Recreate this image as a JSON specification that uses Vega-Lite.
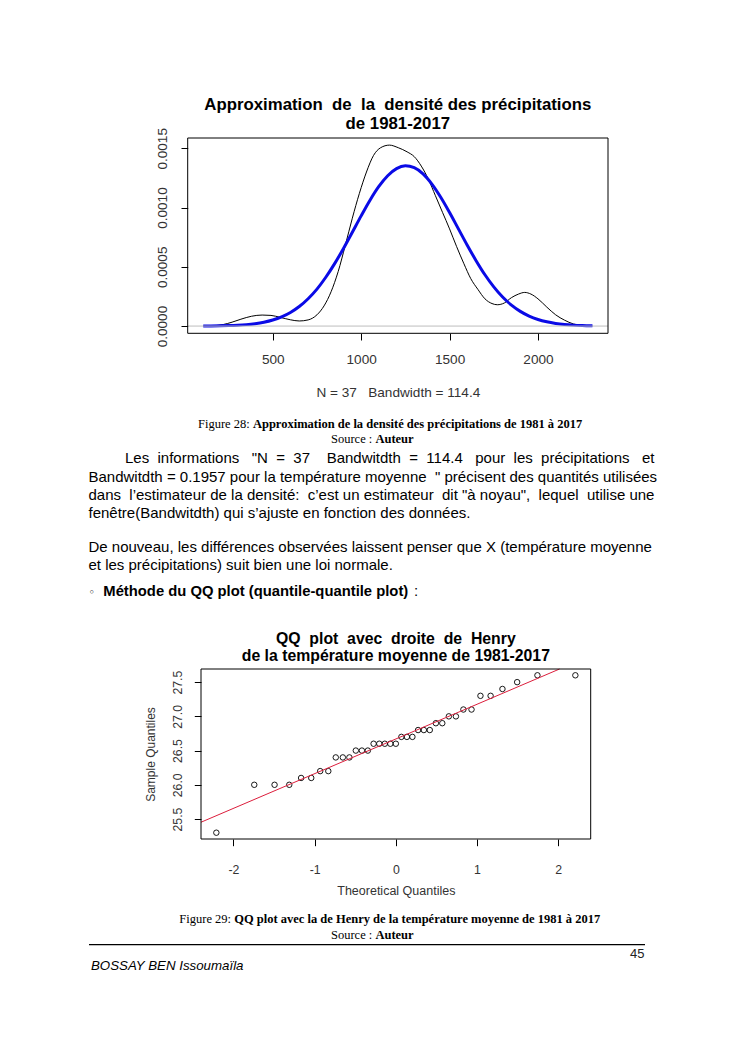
{
  "$schema": "https://vega.github.io/schema/vega-lite/v6.json",
  "padding": 0,
  "background": "white",
  "config": {
    "view": {"stroke": null},
    "font": "Liberation Sans",
    "concat": {"spacing": 0},
    "axis": {"grid": false, "domain": false, "tickColor": "#000", "tickWidth": 1, "labelColor": "#333", "titleColor": "#333", "labelFont": "Liberation Sans", "titleFont": "Liberation Sans", "titleFontWeight": "normal", "labelOverlap": false, "labelFlush": false}
  },
  "datasets": {
    "kde": [
      {"x":107,"d":0},{"x":160,"d":0.000002},{"x":220,"d":0.000013},{"x":270,"d":0.000033},{"x":320,"d":0.000058},{"x":380,"d":0.000083},{"x":440,"d":0.000093},{"x":490,"d":0.00009},{"x":541,"d":0.000074},{"x":600,"d":0.000053},{"x":650,"d":0.000043},{"x":700,"d":0.000052},{"x":750,"d":0.000095},{"x":790,"d":0.00017},{"x":830,"d":0.00029},{"x":870,"d":0.00046},{"x":910,"d":0.00068},{"x":950,"d":0.00091},{"x":990,"d":0.00112},{"x":1030,"d":0.0013},{"x":1070,"d":0.00144},{"x":1110,"d":0.001505},{"x":1160,"d":0.001527},{"x":1210,"d":0.001505},{"x":1260,"d":0.00147},{"x":1300,"d":0.00143},{"x":1340,"d":0.00135},{"x":1380,"d":0.00124},{"x":1420,"d":0.0011},{"x":1460,"d":0.00096},{"x":1500,"d":0.00082},{"x":1540,"d":0.00067},{"x":1580,"d":0.00053},{"x":1620,"d":0.0004},{"x":1660,"d":0.00031},{"x":1700,"d":0.00023},{"x":1740,"d":0.00019},{"x":1770,"d":0.00018},{"x":1810,"d":0.000195},{"x":1850,"d":0.00024},{"x":1890,"d":0.00027},{"x":1925,"d":0.000284},{"x":1960,"d":0.00027},{"x":2000,"d":0.00023},{"x":2050,"d":0.00016},{"x":2100,"d":0.000095},{"x":2150,"d":0.00005},{"x":2200,"d":0.000018},{"x":2250,"d":0.000005},{"x":2308,"d":0}
    ],
    "normal": [
      {"x":107,"d":0.0000007},{"x":150,"d":0.0000012},{"x":200,"d":0.0000023},{"x":250,"d":0.0000041},{"x":300,"d":0.0000072},{"x":350,"d":0.0000122},{"x":400,"d":0.0000203},{"x":450,"d":0.0000327},{"x":500,"d":0.0000511},{"x":550,"d":0.0000778},{"x":600,"d":0.000115},{"x":650,"d":0.000165},{"x":700,"d":0.000231},{"x":750,"d":0.000312},{"x":800,"d":0.000412},{"x":850,"d":0.000527},{"x":900,"d":0.000655},{"x":950,"d":0.000792},{"x":1000,"d":0.00093},{"x":1050,"d":0.001062},{"x":1100,"d":0.001178},{"x":1150,"d":0.001269},{"x":1200,"d":0.001329},{"x":1250,"d":0.001352},{"x":1300,"d":0.001336},{"x":1350,"d":0.001284},{"x":1400,"d":0.001198},{"x":1450,"d":0.001087},{"x":1500,"d":0.000958},{"x":1550,"d":0.00082},{"x":1600,"d":0.000682},{"x":1650,"d":0.000552},{"x":1700,"d":0.000433},{"x":1750,"d":0.000331},{"x":1800,"d":0.000245},{"x":1850,"d":0.000177},{"x":1900,"d":0.000124},{"x":1950,"d":0.0000843},{"x":2000,"d":0.0000557},{"x":2050,"d":0.0000358},{"x":2100,"d":0.0000224},{"x":2150,"d":0.0000136},{"x":2200,"d":0.000008},{"x":2250,"d":0.0000046},{"x":2308,"d":0.0000023}
    ],
    "qq": [
      {"theo":-2.211,"sample":25.3},{"theo":-1.744,"sample":26.0},{"theo":-1.494,"sample":26.0},{"theo":-1.313,"sample":26.0},{"theo":-1.167,"sample":26.1},{"theo":-1.042,"sample":26.1},{"theo":-0.932,"sample":26.2},{"theo":-0.832,"sample":26.2},{"theo":-0.74,"sample":26.4},{"theo":-0.653,"sample":26.4},{"theo":-0.572,"sample":26.4},{"theo":-0.493,"sample":26.5},{"theo":-0.418,"sample":26.5},{"theo":-0.345,"sample":26.5},{"theo":-0.274,"sample":26.6},{"theo":-0.204,"sample":26.6},{"theo":-0.136,"sample":26.6},{"theo":-0.068,"sample":26.6},{"theo":0,"sample":26.6},{"theo":0.068,"sample":26.7},{"theo":0.136,"sample":26.7},{"theo":0.204,"sample":26.7},{"theo":0.274,"sample":26.8},{"theo":0.345,"sample":26.8},{"theo":0.418,"sample":26.8},{"theo":0.493,"sample":26.9},{"theo":0.572,"sample":26.9},{"theo":0.653,"sample":27.0},{"theo":0.74,"sample":27.0},{"theo":0.832,"sample":27.1},{"theo":0.932,"sample":27.1},{"theo":1.042,"sample":27.3},{"theo":1.167,"sample":27.3},{"theo":1.313,"sample":27.4},{"theo":1.494,"sample":27.5},{"theo":1.744,"sample":27.6},{"theo":2.211,"sample":27.6}
    ],
    "henry": [
      {"theo":-2.4,"sample":25.453},{"theo":2.016,"sample":27.692}
    ]
  },
  "vconcat": [
    {
      "width": 745, "height": 138,
      "data": {"values": [{"t": ""}]},
      "mark": "text",
      "encoding": {"text": {"field": "t"}}
    },
    {
      "width": 745, "height": 195.3,
      "title": {"text": ["Approximation\u00a0 de\u00a0 la\u00a0 densité des précipitations", "de 1981-2017"], "fontSize": 16.8, "fontWeight": "bold", "color": "#000", "anchor": "middle", "frame": "group", "baseline": "alphabetic", "lineHeight": 19.3, "offset": 8.7, "dx": 25.35, "dy": 27.3, "font": "Liberation Sans"},
      "layer": [
        {
          "data": {"name": "kde"},
          "mark": {"type": "line", "interpolate": "monotone", "strokeWidth": 1, "color": "#000"},
          "encoding": {
            "x": {"field": "x", "type": "quantitative", "scale": {"domain": [19, 2396], "range": [187.7, 608], "nice": false, "zero": false},
              "axis": {"values": [500, 1000, 1500, 2000], "format": "d", "tickSize": 6.7, "labelFontSize": 13.6, "labelPadding": 12, "title": "N = 37\u00a0\u00a0 Bandwidth = 114.4", "titleFontSize": 13.6, "titleX": 397.85, "titleY": 63.4, "titleBaseline": "alphabetic", "titleAlign": "center"}},
            "y": {"field": "d", "type": "quantitative", "scale": {"domain": [-0.000061, 0.001587], "nice": false, "zero": false},
              "axis": {"values": [0, 0.0005, 0.001, 0.0015], "format": ".4f", "offset": -187.7, "tickSize": 6.7, "labelFontSize": 13.6, "labelAngle": 270, "labelAlign": "center", "labelBaseline": "bottom", "labelPadding": 12, "title": null}}
          }
        },
        {
          "data": {"name": "normal"},
          "mark": {"type": "line", "interpolate": "monotone", "strokeWidth": 3, "color": "#0a0ae6"},
          "encoding": {
            "x": {"field": "x", "type": "quantitative"},
            "y": {"field": "d", "type": "quantitative"}
          }
        },
        {
          "data": {"values": [{"level": 0}]},
          "mark": {"type": "rule", "color": "#bdbdbd", "strokeWidth": 1},
          "encoding": {
            "x": {"datum": 19, "type": "quantitative"},
            "x2": {"datum": 2396},
            "y": {"field": "level", "type": "quantitative"}
          }
        },
        {
          "data": {"values": [{"frame": "box"}]},
          "mark": {"type": "rect", "fill": null, "fillOpacity": 0, "stroke": "#000", "strokeWidth": 1},
          "encoding": {
            "x": {"datum": 19, "type": "quantitative"},
            "x2": {"datum": 2396},
            "y": {"datum": -0.000061, "type": "quantitative"},
            "y2": {"datum": 0.001587}
          }
        }
      ]
    },
    {
      "width": 745, "height": 335,
      "layer": [
        {"data": {"values": [{"t": "Figure 28:"}]}, "mark": {"type": "text", "x": 198, "y": 94, "align": "left", "baseline": "alphabetic", "font": "Liberation Serif", "fontSize": 12.5, "color": "#000"}, "encoding": {"text": {"field": "t"}}},
        {"data": {"values": [{"t": "Approximation de la densité des précipitations de 1981 à 2017"}]}, "mark": {"type": "text", "x": 252.9, "y": 94, "align": "left", "baseline": "alphabetic", "font": "Liberation Serif", "fontWeight": "bold", "fontSize": 12.5, "color": "#000"}, "encoding": {"text": {"field": "t"}}},
        {"data": {"values": [{"t": "Source :"}]}, "mark": {"type": "text", "x": 331, "y": 109, "align": "left", "baseline": "alphabetic", "font": "Liberation Serif", "fontSize": 12.5, "color": "#000"}, "encoding": {"text": {"field": "t"}}},
        {"data": {"values": [{"t": "Auteur"}]}, "mark": {"type": "text", "x": 375.4, "y": 109, "align": "left", "baseline": "alphabetic", "font": "Liberation Serif", "fontWeight": "bold", "fontSize": 12.5, "color": "#000"}, "encoding": {"text": {"field": "t"}}},
        {"data": {"values": [{"t": "Les\u00a0\u00a0informations\u00a0\u00a0\u00a0\"N\u00a0\u00a0=\u00a0\u00a037\u00a0\u00a0\u00a0\u00a0Bandwitdth\u00a0\u00a0=\u00a0\u00a0114.4\u00a0\u00a0\u00a0pour\u00a0\u00a0les\u00a0\u00a0précipitations\u00a0\u00a0\u00a0et"}]}, "mark": {"type": "text", "x": 125, "y": 129.4, "align": "left", "baseline": "alphabetic", "fontSize": 15, "color": "#000"}, "encoding": {"text": {"field": "t"}}},
        {"data": {"values": [{"t": "Bandwitdth = 0.1957 pour la température moyenne\u00a0 \" précisent des quantités utilisées"}]}, "mark": {"type": "text", "x": 88.5, "y": 147.6, "align": "left", "baseline": "alphabetic", "fontSize": 15, "color": "#000"}, "encoding": {"text": {"field": "t"}}},
        {"data": {"values": [{"t": "dans\u00a0 l’estimateur de la densité:\u00a0 c’est un estimateur\u00a0 dit \"à noyau\",\u00a0 lequel\u00a0 utilise une"}]}, "mark": {"type": "text", "x": 88.5, "y": 165.8, "align": "left", "baseline": "alphabetic", "fontSize": 15, "color": "#000"}, "encoding": {"text": {"field": "t"}}},
        {"data": {"values": [{"t": "fenêtre(Bandwitdth) qui s’ajuste en fonction des données."}]}, "mark": {"type": "text", "x": 88.5, "y": 184, "align": "left", "baseline": "alphabetic", "fontSize": 15, "color": "#000"}, "encoding": {"text": {"field": "t"}}},
        {"data": {"values": [{"t": "De nouveau, les différences observées laissent penser que X (température moyenne"}]}, "mark": {"type": "text", "x": 88.5, "y": 218, "align": "left", "baseline": "alphabetic", "fontSize": 15, "color": "#000"}, "encoding": {"text": {"field": "t"}}},
        {"data": {"values": [{"t": "et les précipitations) suit bien une loi normale."}]}, "mark": {"type": "text", "x": 88.5, "y": 236.2, "align": "left", "baseline": "alphabetic", "fontSize": 15, "color": "#000"}, "encoding": {"text": {"field": "t"}}},
        {"data": {"values": [{"t": "◦"}]}, "mark": {"type": "text", "x": 88.5, "y": 262, "align": "left", "baseline": "alphabetic", "font": "DejaVu Sans", "fontSize": 11, "color": "#000"}, "encoding": {"text": {"field": "t"}}},
        {"data": {"values": [{"t": "Méthode du QQ plot (quantile-quantile plot)"}]}, "mark": {"type": "text", "x": 103.3, "y": 262, "align": "left", "baseline": "alphabetic", "fontSize": 14.8, "fontWeight": "bold", "color": "#000"}, "encoding": {"text": {"field": "t"}}},
        {"data": {"values": [{"t": ":"}]}, "mark": {"type": "text", "x": 414, "y": 262, "align": "left", "baseline": "alphabetic", "fontSize": 15, "color": "#000"}, "encoding": {"text": {"field": "t"}}}
      ]
    },
    {
      "width": 745, "height": 170,
      "title": {"text": ["QQ\u00a0 plot\u00a0 avec\u00a0 droite\u00a0 de\u00a0 Henry", "de la température moyenne de 1981-2017"], "fontSize": 15.8, "fontWeight": "bold", "color": "#000", "anchor": "middle", "frame": "group", "baseline": "alphabetic", "lineHeight": 16.7, "offset": 8.3, "dx": 23.35, "dy": 18, "font": "Liberation Sans"},
      "layer": [
        {
          "data": {"name": "qq"},
          "mark": {"type": "point", "shape": "circle", "filled": false, "size": 30, "strokeWidth": 0.9, "color": "#000", "opacity": 1},
          "encoding": {
            "x": {"field": "theo", "type": "quantitative", "scale": {"domain": [-2.4, 2.4], "range": [201, 590.7], "nice": false, "zero": false},
              "axis": {"values": [-2, -1, 0, 1, 2], "labelExpr": "'' + datum.value", "tickSize": 6.7, "labelFontSize": 12.3, "labelPadding": 18, "title": "Theoretical Quantiles", "titleFontSize": 12.5, "titleX": 395.85, "titleY": 55, "titleBaseline": "alphabetic", "titleAlign": "center"}},
            "y": {"field": "sample", "type": "quantitative", "scale": {"domain": [25.208, 27.692], "nice": false, "zero": false},
              "axis": {"values": [25.5, 26, 26.5, 27, 27.5], "format": ".1f", "offset": -201, "tickSize": 6.7, "labelFontSize": 12.3, "labelAngle": 270, "labelAlign": "center", "labelBaseline": "bottom", "labelPadding": 10, "title": "Sample Quantiles", "titleFontSize": 12, "titleAngle": 270, "titleX": -51, "titleY": 85, "titleBaseline": "middle", "titleAlign": "center"}}
          }
        },
        {
          "data": {"name": "henry"},
          "mark": {"type": "line", "color": "#dc1e3c", "strokeWidth": 1},
          "encoding": {
            "x": {"field": "theo", "type": "quantitative"},
            "y": {"field": "sample", "type": "quantitative"}
          }
        },
        {
          "data": {"values": [{"frame": "box"}]},
          "mark": {"type": "rect", "fill": null, "fillOpacity": 0, "stroke": "#000", "strokeWidth": 1},
          "encoding": {
            "x": {"datum": -2.4, "type": "quantitative"},
            "x2": {"datum": 2.4},
            "y": {"datum": 25.208, "type": "quantitative"},
            "y2": {"datum": 27.692}
          }
        }
      ]
    },
    {
      "width": 745, "height": 214.7,
      "layer": [
        {"data": {"values": [{"t": "Figure 29:"}]}, "mark": {"type": "text", "x": 179.3, "y": 84.4, "align": "left", "baseline": "alphabetic", "font": "Liberation Serif", "fontSize": 12.5, "color": "#000"}, "encoding": {"text": {"field": "t"}}},
        {"data": {"values": [{"t": "QQ plot avec la de Henry de la température moyenne de 1981 à 2017"}]}, "mark": {"type": "text", "x": 234.2, "y": 84.4, "align": "left", "baseline": "alphabetic", "font": "Liberation Serif", "fontWeight": "bold", "fontSize": 12.5, "color": "#000"}, "encoding": {"text": {"field": "t"}}},
        {"data": {"values": [{"t": "Source :"}]}, "mark": {"type": "text", "x": 331, "y": 100, "align": "left", "baseline": "alphabetic", "font": "Liberation Serif", "fontSize": 12.5, "color": "#000"}, "encoding": {"text": {"field": "t"}}},
        {"data": {"values": [{"t": "Auteur"}]}, "mark": {"type": "text", "x": 375.4, "y": 100, "align": "left", "baseline": "alphabetic", "font": "Liberation Serif", "fontWeight": "bold", "fontSize": 12.5, "color": "#000"}, "encoding": {"text": {"field": "t"}}},
        {"data": {"values": [{"t": "rule"}]}, "mark": {"type": "rule", "strokeWidth": 1.3, "color": "#000"}, "encoding": {"x": {"value": 89}, "x2": {"value": 645}, "y": {"value": 105.7}, "y2": {"value": 105.7}}},
        {"data": {"values": [{"t": "45"}]}, "mark": {"type": "text", "x": 644.5, "y": 118.7, "align": "right", "baseline": "alphabetic", "fontSize": 13, "color": "#222"}, "encoding": {"text": {"field": "t"}}},
        {"data": {"values": [{"t": "BOSSAY BEN Issoumaïla"}]}, "mark": {"type": "text", "x": 91, "y": 131.2, "align": "left", "baseline": "alphabetic", "fontSize": 13.3, "fontStyle": "italic", "color": "#000"}, "encoding": {"text": {"field": "t"}}}
      ]
    }
  ],
  "spacing": 0,
  "bounds": "flush"
}
